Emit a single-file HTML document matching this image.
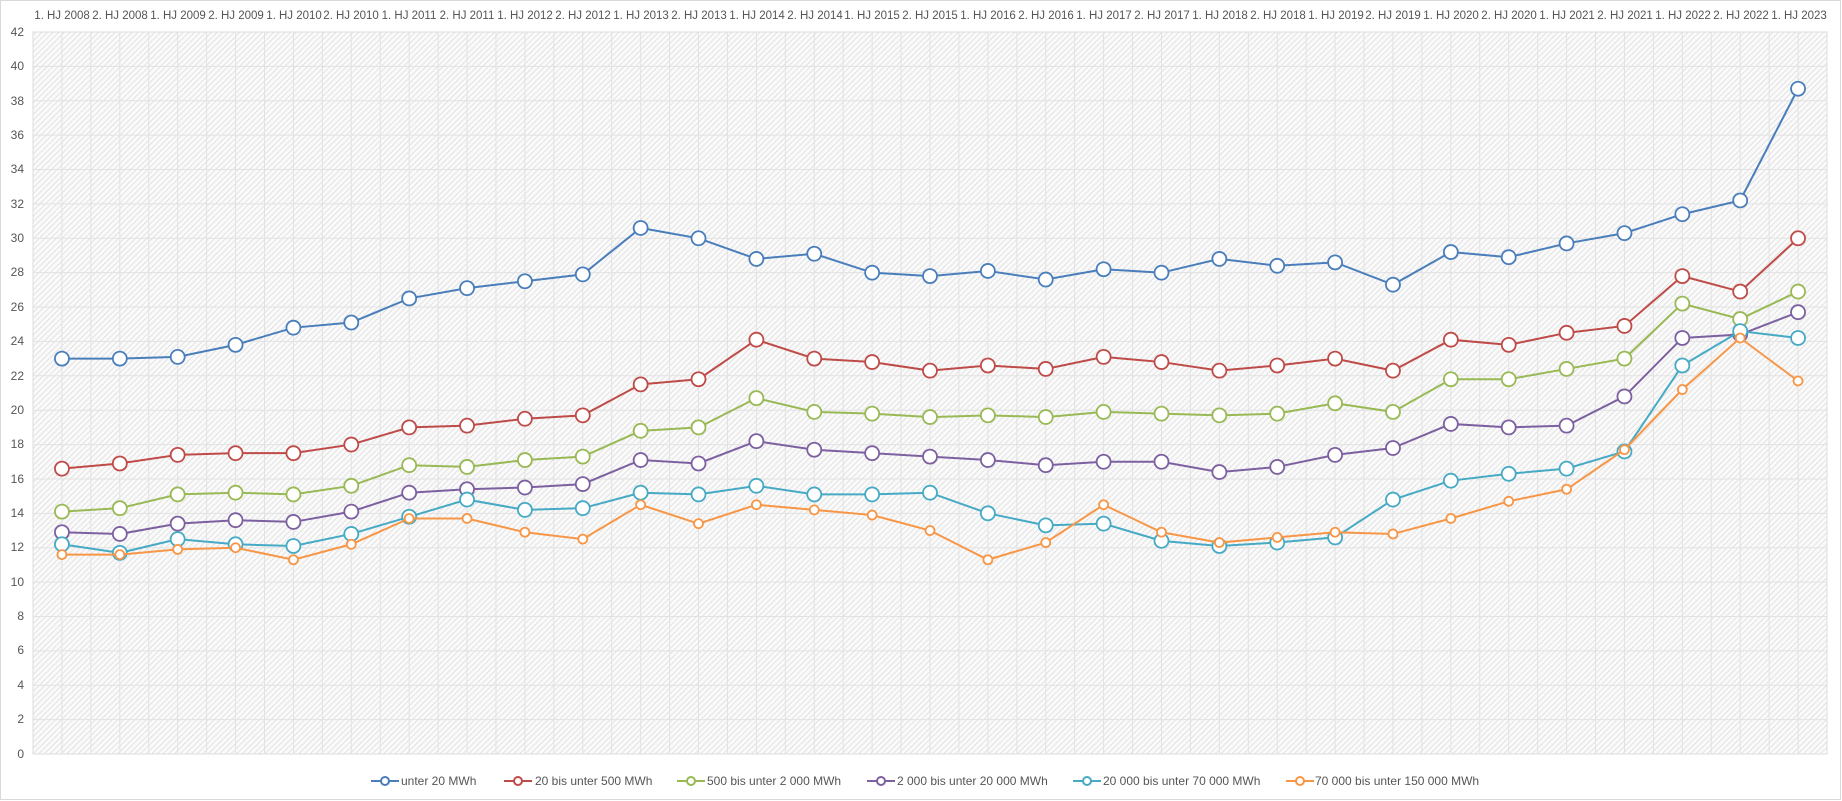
<!DOCTYPE html>
<html><head><meta charset="utf-8"><style>
html,body{margin:0;padding:0;background:#fff;}
svg{display:block;font-family:"Liberation Sans",sans-serif;}
</style></head><body>
<svg id="s" width="1842" height="801" xmlns="http://www.w3.org/2000/svg">
<defs>
<pattern id="h" width="4" height="4" patternUnits="userSpaceOnUse" patternTransform="rotate(45)">
<rect width="4" height="4" fill="#fafafa"/><line x1="0" y1="0" x2="0" y2="4" stroke="#d6d6d6" stroke-width="1.3"/>
</pattern>
</defs>
<rect x="0.5" y="0.5" width="1840" height="799" fill="#fff" stroke="#d9d9d9"/>
<rect x="33" y="32" width="1794" height="722" fill="url(#h)" stroke="#ddd"/>
<g id="grid" stroke="#e2e2e2" stroke-width="1"></g>
<g font-size="12" fill="#555" text-anchor="end">
<text x="24" y="36">42</text><text x="24" y="70">40</text><text x="24" y="105">38</text><text x="24" y="139">36</text><text x="24" y="173">34</text><text x="24" y="208">32</text><text x="24" y="242">30</text><text x="24" y="276">28</text><text x="24" y="311">26</text><text x="24" y="345">24</text><text x="24" y="380">22</text><text x="24" y="414">20</text><text x="24" y="448">18</text><text x="24" y="483">16</text><text x="24" y="517">14</text><text x="24" y="551">12</text><text x="24" y="586">10</text><text x="24" y="620">8</text><text x="24" y="654">6</text><text x="24" y="689">4</text><text x="24" y="723">2</text><text x="24" y="758">0</text>
</g>
<g font-size="11.5" fill="#555" text-anchor="middle">
<text x="62" y="19">1. HJ 2008</text><text x="120" y="19">2. HJ 2008</text><text x="178" y="19">1. HJ 2009</text><text x="236" y="19">2. HJ 2009</text><text x="294" y="19">1. HJ 2010</text><text x="351" y="19">2. HJ 2010</text><text x="409" y="19">1. HJ 2011</text><text x="467" y="19">2. HJ 2011</text><text x="525" y="19">1. HJ 2012</text><text x="583" y="19">2. HJ 2012</text><text x="641" y="19">1. HJ 2013</text><text x="699" y="19">2. HJ 2013</text><text x="757" y="19">1. HJ 2014</text><text x="815" y="19">2. HJ 2014</text><text x="872" y="19">1. HJ 2015</text><text x="930" y="19">2. HJ 2015</text><text x="988" y="19">1. HJ 2016</text><text x="1046" y="19">2. HJ 2016</text><text x="1104" y="19">1. HJ 2017</text><text x="1162" y="19">2. HJ 2017</text><text x="1220" y="19">1. HJ 2018</text><text x="1278" y="19">2. HJ 2018</text><text x="1336" y="19">1. HJ 2019</text><text x="1393" y="19">2. HJ 2019</text><text x="1451" y="19">1. HJ 2020</text><text x="1509" y="19">2. HJ 2020</text><text x="1567" y="19">1. HJ 2021</text><text x="1625" y="19">2. HJ 2021</text><text x="1683" y="19">1. HJ 2022</text><text x="1741" y="19">2. HJ 2022</text><text x="1799" y="19">1. HJ 2023</text>
</g>
<g id="series"></g>
<g font-size="12" fill="#555">
<line x1="371" y1="781" x2="399" y2="781" stroke="#4a7ebb" stroke-width="2"/><circle cx="385" cy="781" r="4" fill="#fff" stroke="#4a7ebb" stroke-width="2"/><text x="401" y="785">unter 20 MWh</text>
<line x1="504" y1="781" x2="532" y2="781" stroke="#be4b48" stroke-width="2"/><circle cx="518" cy="781" r="4" fill="#fff" stroke="#be4b48" stroke-width="2"/><text x="535" y="785">20 bis unter 500 MWh</text>
<line x1="677" y1="781" x2="705" y2="781" stroke="#98b954" stroke-width="2"/><circle cx="691" cy="781" r="4" fill="#fff" stroke="#98b954" stroke-width="2"/><text x="707" y="785">500 bis unter 2 000 MWh</text>
<line x1="867" y1="781" x2="895" y2="781" stroke="#7d60a0" stroke-width="2"/><circle cx="881" cy="781" r="4" fill="#fff" stroke="#7d60a0" stroke-width="2"/><text x="897" y="785">2 000 bis unter 20 000 MWh</text>
<line x1="1073" y1="781" x2="1101" y2="781" stroke="#46aac5" stroke-width="2"/><circle cx="1087" cy="781" r="4" fill="#fff" stroke="#46aac5" stroke-width="2"/><text x="1103" y="785">20 000 bis unter 70 000 MWh</text>
<line x1="1286" y1="781" x2="1314" y2="781" stroke="#f79646" stroke-width="2"/><circle cx="1300" cy="781" r="4" fill="#fff" stroke="#f79646" stroke-width="2"/><text x="1315" y="785">70 000 bis unter 150 000 MWh</text>
</g>
</svg>
<script>
var NS="http://www.w3.org/2000/svg",L=33,T=32,W=1794,H=722,N=31,cw=W/N;
var g=document.getElementById("grid");
function el(n,a,p){var e=document.createElementNS(NS,n);for(var k in a)e.setAttribute(k,a[k]);p.appendChild(e);return e;}
for(var i=1;i<N*2;i++){var x=L+i*cw/2;el("line",{x1:x,y1:T,x2:x,y2:T+H},g);}
for(var v=2;v<42;v+=2){var y=T+H-v*H/42;el("line",{x1:L,y1:y,x2:L+W,y2:y},g);}
var S=[
["#4a7ebb",7,[23.0,23.0,23.1,23.8,24.8,25.1,26.5,27.1,27.5,27.9,30.6,30.0,28.8,29.1,28.0,27.8,28.1,27.6,28.2,28.0,28.8,28.4,28.6,27.3,29.2,28.9,29.7,30.3,31.4,32.2,38.7]],
["#be4b48",7,[16.6,16.9,17.4,17.5,17.5,18.0,19.0,19.1,19.5,19.7,21.5,21.8,24.1,23.0,22.8,22.3,22.6,22.4,23.1,22.8,22.3,22.6,23.0,22.3,24.1,23.8,24.5,24.9,27.8,26.9,30.0]],
["#98b954",7,[14.1,14.3,15.1,15.2,15.1,15.6,16.8,16.7,17.1,17.3,18.8,19.0,20.7,19.9,19.8,19.6,19.7,19.6,19.9,19.8,19.7,19.8,20.4,19.9,21.8,21.8,22.4,23.0,26.2,25.3,26.9]],
["#7d60a0",7,[12.9,12.8,13.4,13.6,13.5,14.1,15.2,15.4,15.5,15.7,17.1,16.9,18.2,17.7,17.5,17.3,17.1,16.8,17.0,17.0,16.4,16.7,17.4,17.8,19.2,19.0,19.1,20.8,24.2,24.4,25.7]],
["#46aac5",7,[12.2,11.7,12.5,12.2,12.1,12.8,13.8,14.8,14.2,14.3,15.2,15.1,15.6,15.1,15.1,15.2,14.0,13.3,13.4,12.4,12.1,12.3,12.6,14.8,15.9,16.3,16.6,17.6,22.6,24.6,24.2]],
["#f79646",4.5,[11.6,11.6,11.9,12.0,11.3,12.2,13.7,13.7,12.9,12.5,14.5,13.4,14.5,14.2,13.9,13.0,11.3,12.3,14.5,12.9,12.3,12.6,12.9,12.8,13.7,14.7,15.4,17.7,21.2,24.2,21.7]]];
var sg=document.getElementById("series");
S.forEach(function(s){var pts=s[2].map(function(v,i){return [L+cw*(i+0.5),T+H-v*H/42];});
el("polyline",{points:pts.map(function(p){return p.join(",");}).join(" "),fill:"none",stroke:s[0],"stroke-width":2},sg);
pts.forEach(function(p){el("circle",{cx:p[0],cy:p[1],r:s[1],fill:"#fff",stroke:s[0],"stroke-width":1.8},sg);});});
</script>
</body></html>
